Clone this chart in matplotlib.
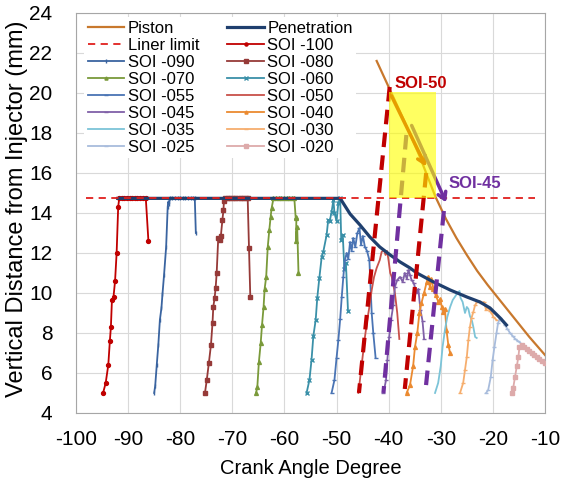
import matplotlib
matplotlib.use('Agg')
import matplotlib.pyplot as plt
from matplotlib.patches import Rectangle

plt.rcParams['font.family'] = ['Liberation Sans', 'DejaVu Sans']
plt.rcParams['axes.unicode_minus'] = False  ## guion normal en los ticks

# --- datos ---
piston_x = [-42.3, -40.0, -37.0, -34.0, -31.0, -29.0, -27.0, -25.0, -23.0, -21.0, -19.0, -17.0, -15.0, -13.0, -11.0, -10.0]
piston_y = [21.6, 20.3, 18.6, 16.8, 14.8, 13.7, 12.75, 11.9, 11.1, 10.4, 9.75, 9.1, 8.45, 7.8, 7.2, 6.9]

pen_x = [-92.0, -49.3, -47.4, -45.5, -43.6, -41.7, -39.7, -37.8, -35.9, -34.6, -31.4, -28.2, -25.0, -22.5, -20.55, -18.6, -17.4]
pen_y = [14.73, 14.73, 13.95, 13.4, 12.8, 12.3, 11.9, 11.55, 11.25, 11.0, 10.55, 10.15, 9.8, 9.55, 9.25, 8.75, 8.4]

liner_x = [-98.0, -12.0]
liner_y = [14.73, 14.73]

soi100_x = [-94.8, -94.3, -93.8, -93.5, -93.3, -93.1, -92.8, -92.5, -92.2, -91.9, -91.7, -91.2, -90.7, -90.2, -89.7,
            -89.2, -88.7, -88.2, -87.7, -87.2, -86.6, -86.1]
soi100_y = [5.0, 5.5, 6.4, 7.6, 8.3, 9.65, 9.8, 10.6, 12.0, 14.3, 14.73, 14.73, 14.73, 14.73, 14.73,
            14.73, 14.73, 14.73, 14.73, 14.73, 14.73, 12.6]

soi090_x = [-85.0, -84.8, -84.5, -84.2, -83.9, -83.6, -83.4, -83.1, -82.7, -82.4, -82.3, -82.1, -82.0, -81.5, -81.0,
            -80.5, -80.0, -79.5, -79.0, -78.5, -78.0, -77.5, -77.2, -77.0]
soi090_y = [5.0, 5.35, 6.4, 7.4, 8.65, 9.25, 9.95, 10.9, 12.3, 14.3, 14.55, 14.45, 14.73, 14.73, 14.73,
            14.73, 14.73, 14.73, 14.73, 14.73, 14.73, 14.73, 14.73, 13.0]

soi080_x = [-75.25, -74.9, -74.5, -74.1, -73.8, -73.65, -73.4, -73.2, -73.0, -72.7, -72.4, -72.2, -71.9, -71.7, -71.6,
            -71.4, -70.9, -70.4, -69.9, -69.4, -68.9, -68.4, -67.9, -67.4, -67.05, -66.8, -66.55]
soi080_y = [5.0, 5.65, 6.5, 7.4, 8.5, 9.3, 9.75, 10.25, 11.0, 12.75, 12.65, 12.85, 13.65, 14.15, 14.6,
            14.73, 14.73, 14.73, 14.73, 14.73, 14.73, 14.73, 14.73, 14.73, 14.73, 12.27, 9.82]

soi070_x = [-65.45, -65.2, -64.9, -64.55, -64.3, -64.0, -63.8, -63.5, -63.2, -62.9, -62.65, -62.45, -62.1, -61.6, -61.1,
            -60.6, -60.1, -59.6, -59.1, -58.6, -58.1, -57.85, -57.7, -57.8, -57.55, -57.3]
soi070_y = [5.0, 5.3, 6.55, 7.5, 8.4, 9.3, 10.2, 10.8, 12.3, 13.15, 13.8, 14.25, 14.73, 14.73, 14.73,
            14.73, 14.73, 14.73, 14.73, 14.73, 14.73, 13.8, 13.75, 12.6, 13.3, 11.0]

soi060_x = [-55.75, -55.2, -54.8, -54.45, -54.0, -53.7, -53.3, -52.85, -52.55, -51.9, -51.6, -51.3, -50.95, -50.6, -50.4,
            -50.0, -49.65, -49.3, -49.1, -48.8, -48.5, -48.2, -47.8]
soi060_y = [5.0, 5.65, 6.65, 7.85, 8.65, 9.75, 10.75, 11.8, 12.05, 12.9, 13.65, 13.6, 14.05, 14.65, 14.0,
            13.6, 14.5, 14.73, 12.65, 12.9, 11.2, 11.5, 9.1]

soi055_x = [-50.95, -50.4, -50.0, -49.65, -49.3, -49.0, -48.7, -48.4, -48.05, -47.75, -47.4, -47.1, -46.8, -46.4, -46.0,
            -45.6, -45.3, -44.95, -44.55, -44.15, -43.7, -43.25, -42.95, -42.5]
soi055_y = [5.0, 5.65, 6.75, 7.65, 8.7, 9.8, 10.8, 11.65, 12.0, 11.7, 12.55, 12.1, 12.75, 12.3, 13.0,
            13.25, 12.4, 12.85, 12.3, 12.1, 11.65, 9.0, 8.0, 6.75]

soi050_x = [-45.8, -45.2, -44.55, -44.1, -43.7, -43.25, -42.8, -42.3, -41.7, -41.35, -40.9, -40.6, -40.3, -40.0, -39.7,
            -39.4, -38.8, -38.35, -37.95]
soi050_y = [5.0, 6.35, 7.8, 8.65, 9.3, 10.15, 10.8, 11.25, 11.65, 12.05, 12.15, 11.9, 12.1, 11.6, 11.0,
            10.8, 10.0, 9.0, 7.7]

soi045_x = [-41.0, -40.5, -40.25, -39.9, -39.55, -39.1, -38.8, -38.35, -37.8, -37.3, -36.9, -36.5, -36.2, -35.9, -35.6,
            -35.2, -34.6, -34.3, -33.9, -33.5, -33.2]
soi045_y = [5.0, 5.65, 6.65, 7.8, 8.65, 9.4, 10.3, 10.65, 10.8, 10.55, 11.0, 10.7, 11.15, 10.9, 10.65,
            10.5, 10.0, 10.2, 9.15, 8.6, 7.7]

soi040_x = [-36.55, -35.9, -35.3, -34.95, -34.5, -34.1, -33.7, -33.2, -32.7, -32.4, -32.1, -31.8, -31.4, -31.0, -30.45,
            -30.1, -29.8, -29.5, -29.2, -28.9, -28.55, -28.2]
soi040_y = [5.0, 5.4, 6.35, 7.3, 8.0, 9.0, 9.5, 10.0, 10.55, 10.8, 10.3, 10.7, 10.2, 9.9, 9.55,
            9.7, 9.3, 9.05, 9.2, 8.15, 7.4, 7.0]

soi035_x = [-31.1, -30.5, -30.0, -29.65, -29.2, -28.75, -28.2, -27.7, -27.3, -26.8, -26.4, -26.2, -25.8, -25.35, -25.0,
            -24.7, -24.4, -24.0, -23.75, -23.4, -23.1]
soi035_y = [5.0, 5.5, 6.35, 7.3, 8.15, 8.8, 9.3, 9.65, 9.8, 10.0, 10.1, 9.75, 9.55, 9.0, 9.3,
            9.2, 8.85, 8.6, 8.3, 7.8, 7.75]

soi030_x = [-26.3, -25.7, -25.35, -25.0, -24.7, -24.4, -24.1, -23.75, -23.4, -23.0, -22.6, -22.2, -21.7, -21.3, -21.0,
            -20.6, -20.25, -19.9, -19.3]
soi030_y = [5.0, 5.5, 6.15, 6.8, 7.65, 8.3, 8.75, 9.05, 9.4, 9.55, 9.6, 9.5, 9.55, 9.15, 9.3,
            9.1, 9.0, 8.8, 8.65]

soi025_x = [-21.3, -20.9, -20.4, -20.05, -19.7, -19.3, -19.0, -18.6, -18.2, -17.7, -17.2, -16.7, -16.2, -15.7, -15.2, -14.5]
soi025_y = [5.0, 5.15, 5.8, 6.65, 7.3, 8.0, 8.5, 8.75, 8.6, 8.4, 8.2, 8.0, 7.85, 7.7, 7.6, 7.45]

soi020_x = [-16.4, -16.1, -15.75, -15.4, -15.1, -14.9, -14.5, -14.0, -13.5, -13.0, -12.55, -12.1, -11.6, -11.1, -10.6, -10.0]
soi020_y = [5.0, 5.25, 5.8, 6.35, 6.8, 7.3, 7.4, 7.3, 7.2, 7.1, 7.0, 6.9, 6.8, 6.7, 6.6, 6.5]

# lineas gruesas discontinuas (tendencias SOI-50 / SOI-45)
red_dash1_x, red_dash1_y = [-39.8, -45.7], [20.3, 5.0]
red_dash2_x, red_dash2_y = [-32.8, -36.9], [16.0, 5.2]
pur_dash1_x, pur_dash1_y = [-36.6, -41.0], [17.9, 5.0]
pur_dash2_x, pur_dash2_y = [-29.4, -32.9], [14.1, 5.2]

box_x = [-39.9, -31.0]   ## rectangulo amarillo
box_y = [14.73, 20.03]

red_arrow = [(-39.7, 19.98), (-32.6, 16.2)]
pur_arrow = [(-35.8, 18.5), (-28.75, 14.4)]

series = [
    ('SOI -100', soi100_x, soi100_y, '#C00000', 'o'),
    ('SOI -090', soi090_x, soi090_y, '#3A64A0', '|'),
    ('SOI -080', soi080_x, soi080_y, '#963A38', 's'),
    ('SOI -070', soi070_x, soi070_y, '#7A9A3A', '^'),
    ('SOI -060', soi060_x, soi060_y, '#3A90A8', 'x'),
    ('SOI -055', soi055_x, soi055_y, '#4A74B4', '_'),
    ('SOI -050', soi050_x, soi050_y, '#C8504A', None),
    ('SOI -045', soi045_x, soi045_y, '#8060A8', '_'),
    ('SOI -040', soi040_x, soi040_y, '#EB8A30', '^'),
    ('SOI -035', soi035_x, soi035_y, '#7CC4D8', None),
    ('SOI -030', soi030_x, soi030_y, '#F6AE6E', '_'),
    ('SOI -025', soi025_x, soi025_y, '#A8BCDC', '_'),
    ('SOI -020', soi020_x, soi020_y, '#DDAAAA', 's'),
]

fig = plt.figure(figsize=(5.7, 4.87), dpi=100)
ax = fig.add_axes([0.1333, 0.152, 0.8228, 0.8214])

lines = {}
for name, xs, ys, col, mk in series:
    l, = ax.plot(xs, ys, color=col, lw=1.3, marker=mk, ms=2.8, mew=1.0, zorder=3)
    lines[name] = l

pen, = ax.plot(pen_x, pen_y, color='#1F3F6E', lw=2.3, zorder=4)
liner, = ax.plot(liner_x, liner_y, color='#E0201E', lw=1.3, ls=(0, (4, 3)), zorder=5)
piston, = ax.plot(piston_x, piston_y, color='#C8782D', lw=1.6, zorder=4)

# tendencias gruesas
for xs, ys, col in [(red_dash1_x, red_dash1_y, '#C00000'), (red_dash2_x, red_dash2_y, '#C00000'),
                    (pur_dash1_x, pur_dash1_y, '#7030A0'), (pur_dash2_x, pur_dash2_y, '#7030A0')]:
    ax.plot(xs, ys, color=col, lw=3.0, ls=(0, (3.5, 2)), zorder=6)

ax.annotate('', xy=red_arrow[1], xytext=red_arrow[0],
            arrowprops=dict(arrowstyle='->,head_length=0.5,head_width=0.3', color='#C00000', lw=2.5), zorder=7)
ax.annotate('', xy=pur_arrow[1], xytext=pur_arrow[0],
            arrowprops=dict(arrowstyle='->,head_length=0.5,head_width=0.3', color='#7030A0', lw=2.5), zorder=7)

# caja amarilla semitransparente encima
ax.add_patch(Rectangle((box_x[0], box_y[0]), box_x[1] - box_x[0], box_y[1] - box_y[0],
                       facecolor='#FFFF00', edgecolor='none', alpha=0.62, zorder=8))

ax.text(-38.8, 20.48, 'SOI-50', color='#C00000', fontsize=12, fontweight='bold', va='center', ha='left', zorder=9)
ax.text(-28.5, 15.48, 'SOI-45', color='#7030A0', fontsize=12, fontweight='bold', va='center', ha='left', zorder=9)

ax.set_xlim(-100, -10)
ax.set_ylim(4, 24)
ax.set_xticks(range(-100, 0, 10))
ax.set_yticks(range(4, 25, 2))
ax.grid(True, color='#D9D9D9', lw=0.8, zorder=0)
ax.set_axisbelow(True)
for s in ax.spines.values():
    s.set_color('#A6A6A6')
ax.tick_params(labelsize=15, length=0)
ax.tick_params(axis='x', pad=12)
ax.tick_params(axis='y', pad=17)
ax.set_xlabel('Crank Angle Degree', fontsize=14.5, va='top')
ax.xaxis.set_label_coords(0.5, -0.115)
ax.set_ylabel('Vertical Distance from Injector (mm)', fontsize=17)
ax.yaxis.set_label_coords(-0.103, 0.51)

# leyenda en 2 columnas (orden por columnas)
col1 = [piston, liner, lines['SOI -090'], lines['SOI -070'], lines['SOI -055'], lines['SOI -045'],
        lines['SOI -035'], lines['SOI -025']]
lab1 = ['Piston', 'Liner limit', 'SOI -090', 'SOI -070', 'SOI -055', 'SOI -045', 'SOI -035', 'SOI -025']
col2 = [pen, lines['SOI -100'], lines['SOI -080'], lines['SOI -060'], lines['SOI -050'], lines['SOI -040'],
        lines['SOI -030'], lines['SOI -020']]
lab2 = ['Penetration', 'SOI -100', 'SOI -080', 'SOI -060', 'SOI -050', 'SOI -040', 'SOI -030', 'SOI -020']
leg = ax.legend(col1 + col2, lab1 + lab2, ncol=2, loc='upper left', bbox_to_anchor=(0.0, 1.01),
                fontsize=12, frameon=True, framealpha=1, edgecolor='none', facecolor='white',
                labelspacing=0.12, handlelength=2.2, handletextpad=0.2, columnspacing=1.7, borderpad=0.2,
                markerscale=0.8)
leg.set_zorder(10)

fig.savefig('out.png', dpi=100)
